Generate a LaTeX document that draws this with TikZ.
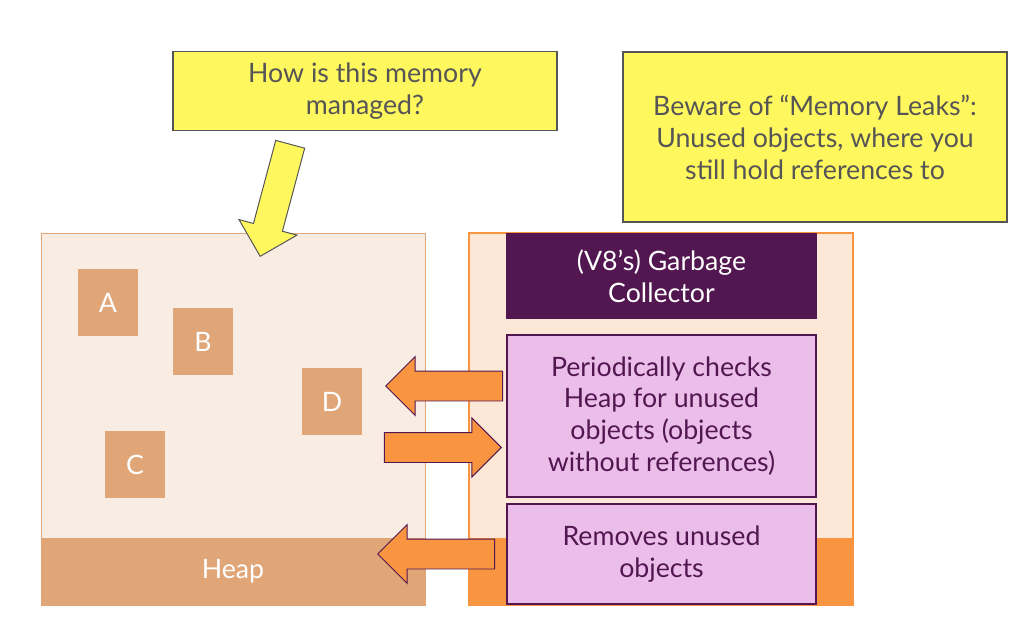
\documentclass[tikz,border=0pt]{standalone}
\usepackage{fontspec}
\setmainfont{Lato}
\usetikzlibrary{shapes.arrows}

\definecolor{heapbg}{HTML}{F9ECE3}
\definecolor{heapdark}{HTML}{E0A678}
\definecolor{gcbg}{HTML}{FDE8D8}
\definecolor{gcorange}{HTML}{F99441}
\definecolor{gcpurple}{HTML}{521751}
\definecolor{gcpink}{HTML}{EBBEE9}
\definecolor{noteyellow}{HTML}{FFF75E}
\definecolor{notegrey}{HTML}{555555}

\newcommand{\pxu}{0.25mm}

\begin{document}
\begin{tikzpicture}[x=0.25mm, y=0.25mm,
    every node/.style={font=\fontsize{19}{22.7}\selectfont, align=center},
    panel/.style={draw, minimum width=384*\pxu, minimum height=372*\pxu, inner sep=0pt},
    band/.style={minimum width=384*\pxu, minimum height=67*\pxu, inner sep=0pt, text=white},
    obj/.style={fill=heapdark, text=white, minimum width=60*\pxu,
      minimum height=67*\pxu, inner sep=0pt},
    gcbox/.style={draw=gcpurple, line width=0.8pt, minimum width=309*\pxu, inner sep=0pt},
    note/.style={draw=notegrey, line width=1.2pt, fill=noteyellow, text=notegrey,
      minimum width=384*\pxu, inner sep=0pt},
    blockarrow/.style={single arrow, draw=gcpurple, fill=gcorange, line width=0.7pt,
      text height=0pt, text depth=0pt, inner xsep=0pt, inner ysep=14.5*\pxu,
      single arrow tip angle=90, single arrow head indent=0pt,
      single arrow head extend=14.5*\pxu, minimum height=117*\pxu, anchor=tip}
  ]
  \useasboundingbox (0,0) rectangle (1026,-634);

  % questions
  \node[note, minimum height=79*\pxu] (question) at (365,-91) {How is this memory\\managed?};
  \node[note, minimum height=170*\pxu] (leaks) at (815,-137)
    {Beware of “Memory Leaks”:\\Unused objects, where you\\still hold references to};

  % heap
  \node[panel, draw=heapdark, line width=0.6pt, fill=heapbg] (heap) at (233,-419) {};
  \node[band, fill=heapdark, anchor=south] (heaplabel) at (heap.south) {Heap};
  \node[obj] (a) at (108,-302.5) {A};
  \node[obj] (b) at (203,-341.5) {B};
  \node[obj] (c) at (135,-464.5) {C};
  \node[obj] (d) at (332,-401.5) {D};

  \node[blockarrow, draw=notegrey, fill=noteyellow, rotate=255, minimum height=116*\pxu,
    single arrow head extend=15*\pxu] (pointer) at (260,-257) {};

  % garbage collector
  \node[panel, draw=gcorange, line width=1pt, fill=gcbg] (engine) at (661,-419) {};
  \node[band, fill=gcorange, anchor=south] (engineband) at (engine.south) {};
  \node[gcbox, fill=gcpurple, text=white, minimum height=85*\pxu, anchor=north]
    (gc) at (661.5,-233) {(V8’s) Garbage\\Collector};
  \node[gcbox, fill=gcpink, text=gcpurple, minimum height=162*\pxu] (check) at (661.5,-416)
    {Periodically checks\\Heap for unused\\objects (objects\\without references)};
  \node[gcbox, fill=gcpink, text=gcpurple, minimum height=100*\pxu] (remove) at (661.5,-554)
    {Removes unused\\objects};

  % block arrows
  \node[blockarrow, rotate=180] (mark) at (385,-386) {};
  \node[blockarrow] (scan) at (502,-447.5) {};
  \node[blockarrow, rotate=180] (sweep) at (377,-554) {};
\end{tikzpicture}
\end{document}
